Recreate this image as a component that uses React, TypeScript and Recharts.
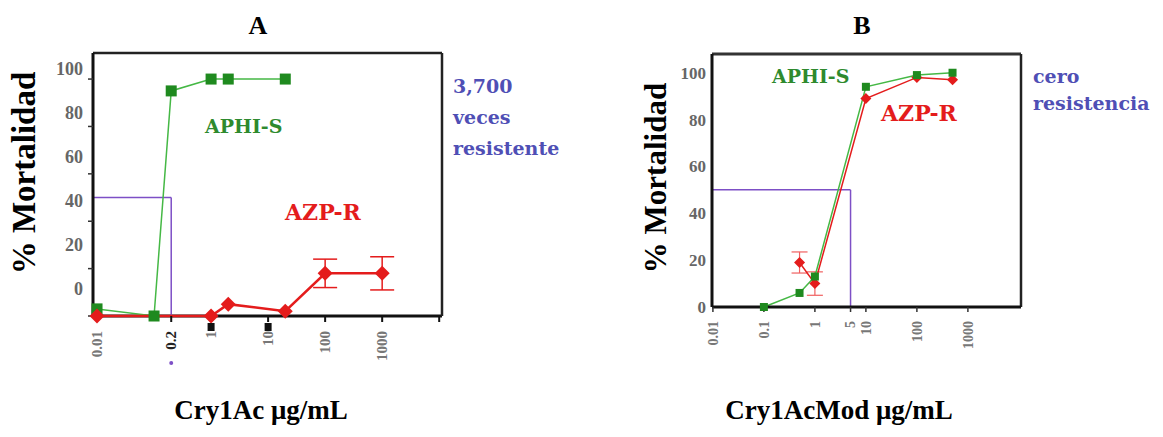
import React from "react";
import { LineChart, Line, XAxis, YAxis, ReferenceLine, ErrorBar } from "recharts";

// Panel A: Cry1Ac
const concA_S = [0.01, 0.1, 0.2, 1, 2, 20];
const mortA_S = [3, 0, 95, 100, 100, 100];
const concA_R = [0.01, 1, 2, 20, 100, 1000];
const mortA_R = [0, 0, 5, 2, 18, 18];
const errA_R = [0, 0, 0, 0, 6, 7];
const ticksXA = [0.01, 0.2, 1, 10, 100, 1000, 10000];
const lc50A = 0.2;

// Panel B: Cry1AcMod
const concB_S = [0.1, 0.5, 1, 10, 100, 500];
const mortB_S = [0, 6, 13, 94, 99, 100];
const concB_R = [0.5, 1, 10, 100, 500];
const mortB_R = [19, 10, 89, 98, 97];
const errB_R = [4.5, 5, 0, 0, 0];
const ticksXB = [0.01, 0.1, 1, 5, 10, 100, 1000];
const lc50B = 5;

const ticksY = [0, 20, 40, 60, 80, 100];

const toRows = (xs: number[], ys: number[], errs?: number[]) =>
  xs.map((x, i) => ({ x, y: ys[i], err: errs ? errs[i] : 0 }));

const GREEN = "#1f8a1f";
const GREEN_LINE = "#45b845";
const RED = "#e41c1c";
const PURPLE = "#7d4fc6";
const NOTE = "#4f4fb5";
const SERIF = "'Liberation Serif', 'DejaVu Serif', serif";
const NOTE_FONT = "'DejaVu Serif', serif";

const square = (size: number) => (p: any) => {
  if (p.cx == null || p.cy == null) return <g key={p.index} />;
  return (
    <rect key={p.index} x={p.cx - size / 2} y={p.cy - size / 2} width={size} height={size} fill={GREEN} />
  );
};

const diamond = (s: number) => (p: any) => {
  if (p.cx == null || p.cy == null) return <g key={p.index} />;
  const { cx, cy } = p;
  return (
    <path key={p.index} d={`M${cx},${cy - s}L${cx + s},${cy}L${cx},${cy + s}L${cx - s},${cy}Z`} fill={RED} />
  );
};

const fmt = (v: number) => (v >= 10000 ? "" : String(v));

const XTick = (fontSize: number, strong?: number, marked: number[] = []) => (p: any) => {
  const { x, y, payload } = p;
  const isStrong = payload.value === strong;
  return (
    <g transform={`translate(${x},${y + 7})`}>
      {marked.includes(payload.value) && <rect x={-3.5} y={-8} width={7} height={8} fill="#111" />}
      <text
        transform="rotate(-90)"
        textAnchor="end"
        dy="0.35em"
        fontFamily={SERIF}
        fontSize={fontSize}
        fontWeight="bold"
        fill={isStrong ? "#222" : "#777"}
      >
        {fmt(payload.value)}
      </text>
      {isStrong && <circle cx={0} cy={32} r={2} fill={PURPLE} />}
    </g>
  );
};

// panel A labels sit above their tick marks in the original
const YTickA = (p: any) => {
  const { x, y, payload } = p;
  const off = 10 + (100 - payload.value) * 0.17;
  return (
    <text x={x - 3} y={y - off} dy="0.35em" textAnchor="end" fontFamily={SERIF} fontSize={18} fontWeight="bold" fill="#666">
      {payload.value}
    </text>
  );
};

const YTickB = (p: any) => {
  const { x, y, payload } = p;
  return (
    <text x={x + 2} y={y} dy="0.35em" textAnchor="end" fontFamily={SERIF} fontSize={17} fontWeight="bold" fill="#666">
      {payload.value}
    </text>
  );
};

const abs = (left: number, top: number, extra: React.CSSProperties = {}): React.CSSProperties => ({
  position: "absolute",
  left,
  top,
  whiteSpace: "nowrap",
  lineHeight: 1,
  ...extra,
});

const rotated = (cx: number, cy: number, size: number): React.CSSProperties => ({
  position: "absolute",
  left: cx,
  top: cy,
  transform: "translate(-50%, -50%) rotate(-90deg)",
  whiteSpace: "nowrap",
  fontFamily: SERIF,
  fontWeight: "bold",
  fontSize: size,
  lineHeight: 1,
});

const centered = (cx: number, cy: number, size: number): React.CSSProperties => ({
  position: "absolute",
  left: cx,
  top: cy,
  transform: "translate(-50%, -50%)",
  whiteSpace: "nowrap",
  fontFamily: SERIF,
  fontWeight: "bold",
  fontSize: size,
  lineHeight: 1,
});

export default function App() {
  const xDomA: [number, number] = [0.0085, 11200];
  const yMaxA = 111;
  const xDomB: [number, number] = [0.0096, 11000];
  const yMaxB = 108;

  return (
    <div style={{ position: "absolute", left: 0, top: 0, width: 1163, height: 437, background: "#fff", overflow: "hidden" }}>
      {/* Panel A */}
      <div style={{ position: "absolute", left: 0, top: 0 }}>
        <LineChart width={470} height={437} margin={{ top: 53, right: 28, left: 43, bottom: 61 }}>
          <XAxis
            dataKey="x"
            type="number"
            scale="log"
            domain={xDomA}
            ticks={ticksXA}
            interval={0}
            height={60}
            axisLine={false}
            tickLine={{ stroke: "#111", strokeWidth: 2 }}
            tickSize={6}
            tick={XTick(15, lc50A, [1, 10])}
          />
          <YAxis
            type="number"
            domain={[0, yMaxA]}
            ticks={ticksY}
            interval={0}
            width={50}
            axisLine={{ stroke: "#111", strokeWidth: 3 }}
            tickLine={{ stroke: "#333", strokeWidth: 1.5 }}
            tickSize={5}
            tick={YTickA}
          />
          <ReferenceLine y={0} stroke="#111" strokeWidth={3} />
          <ReferenceLine y={yMaxA} stroke="#222" strokeWidth={2.5} />
          <ReferenceLine x={xDomA[1]} stroke="#222" strokeWidth={2.5} />
          <ReferenceLine segment={[{ x: xDomA[0], y: 50 }, { x: lc50A, y: 50 }]} stroke={PURPLE} strokeWidth={1.5} />
          <ReferenceLine segment={[{ x: lc50A, y: 50 }, { x: lc50A, y: 0 }]} stroke={PURPLE} strokeWidth={1.5} />
          <Line
            data={toRows(concA_S, mortA_S)}
            dataKey="y"
            stroke={GREEN_LINE}
            strokeWidth={1.5}
            dot={square(11)}
            isAnimationActive={false}
          />
          <Line
            data={toRows(concA_R, mortA_R, errA_R)}
            dataKey="y"
            stroke={RED}
            strokeWidth={2.5}
            dot={diamond(7.5)}
            isAnimationActive={false}
          >
            <ErrorBar dataKey="err" direction="y" width={12} stroke={RED} strokeWidth={1.5} />
          </Line>
        </LineChart>
      </div>

      {/* Panel B */}
      <div style={{ position: "absolute", left: 600, top: 0 }}>
        <LineChart width={450} height={437} margin={{ top: 54, right: 29, left: 62, bottom: 70 }}>
          <XAxis
            dataKey="x"
            type="number"
            scale="log"
            domain={xDomB}
            ticks={ticksXB}
            interval={0}
            height={60}
            axisLine={{ stroke: "#111", strokeWidth: 3 }}
            tickLine={{ stroke: "#333", strokeWidth: 1.5 }}
            tickSize={5}
            tick={XTick(14)}
          />
          <YAxis
            type="number"
            domain={[0, yMaxB]}
            ticks={ticksY}
            interval={0}
            width={50}
            axisLine={{ stroke: "#111", strokeWidth: 3 }}
            tickLine={false}
            tick={YTickB}
          />
          <ReferenceLine y={yMaxB} stroke="#333" strokeWidth={3} />
          <ReferenceLine x={xDomB[1]} stroke="#222" strokeWidth={2.5} />
          <ReferenceLine segment={[{ x: xDomB[0], y: 50 }, { x: lc50B, y: 50 }]} stroke={PURPLE} strokeWidth={1.5} />
          <ReferenceLine segment={[{ x: lc50B, y: 50 }, { x: lc50B, y: 0 }]} stroke={PURPLE} strokeWidth={1.5} />
          <Line
            data={toRows(concB_R, mortB_R, errB_R)}
            dataKey="y"
            stroke={RED}
            strokeWidth={1.5}
            dot={diamond(5.5)}
            isAnimationActive={false}
          >
            <ErrorBar dataKey="err" direction="y" width={8} stroke="#f06060" strokeWidth={1.2} />
          </Line>
          <Line
            data={toRows(concB_S, mortB_S)}
            dataKey="y"
            stroke={GREEN_LINE}
            strokeWidth={1.5}
            dot={square(8)}
            isAnimationActive={false}
          />
        </LineChart>
      </div>

      {/* titles and notes */}
      <div style={centered(258, 26, 26)}>A</div>
      <div style={centered(862, 26, 26)}>B</div>
      <div style={rotated(24, 173, 33)}>% Mortalidad</div>
      <div style={rotated(655, 178, 31)}>% Mortalidad</div>
      <div style={centered(261, 410, 27)}>Cry1Ac μg/mL</div>
      <div style={centered(839, 410, 27)}>Cry1AcMod μg/mL</div>

      <div style={abs(205, 117, { fontFamily: NOTE_FONT, fontWeight: "bold", fontSize: 19, color: "#2e8a2e" })}>APHI-S</div>
      <div style={abs(285, 201, { fontFamily: NOTE_FONT, fontWeight: "bold", fontSize: 22, color: RED })}>AZP-R</div>
      <div style={abs(453, 71, { fontFamily: NOTE_FONT, fontWeight: "bold", fontSize: 19, color: NOTE, lineHeight: "31px" })}>
        3,700
        <br />
        veces
        <br />
        resistente
      </div>

      <div style={abs(772, 67, { fontFamily: NOTE_FONT, fontWeight: "bold", fontSize: 19, color: "#2e8a2e" })}>APHI-S</div>
      <div style={abs(881, 102, { fontFamily: NOTE_FONT, fontWeight: "bold", fontSize: 22, color: RED })}>AZP-R</div>
      <div style={abs(1033, 63, { fontFamily: NOTE_FONT, fontWeight: "bold", fontSize: 19, color: NOTE, lineHeight: "27px" })}>
        cero
        <br />
        resistencia
      </div>
    </div>
  );
}
